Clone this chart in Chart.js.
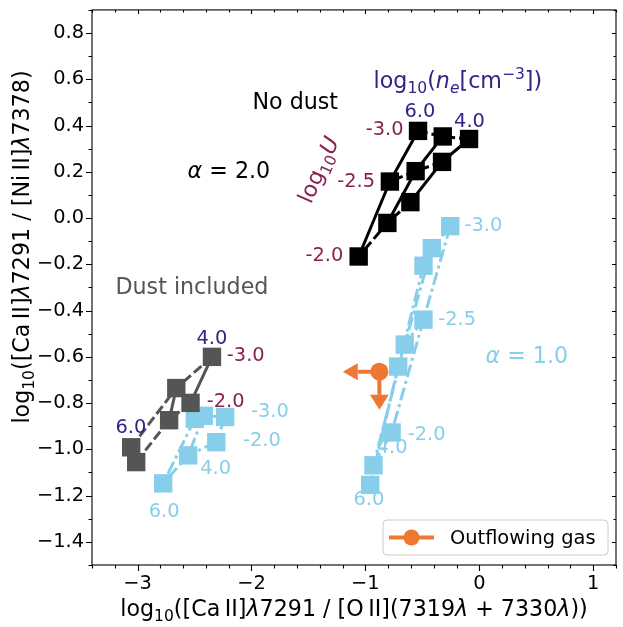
<!DOCTYPE html>
<html>
<head>
<meta charset="utf-8">
<script src="https://cdn.jsdelivr.net/npm/chart.js@4.4.0/dist/chart.umd.min.js"></script>
<style>
    body { margin: 0; background: #fff; }
    canvas { display: block; }
</style>
</head>
<body>
<canvas id="chart" width="623" height="627"></canvas>
<script>
// Model grids: rows are log10(ne) = 4.0, 5.0, 6.0; columns are log10(U)
const logNe = ['4.0', '5.0', '6.0'];
const logU = ['-3.0', '-2.5', '-2.0'];
const logUDust = ['-3.0', '-2.0'];

// No dust, alpha = 2.0
const noDustX = [[-0.090, -0.327, -0.605], [-0.321, -0.559, -0.807], [-0.538, -0.785, -1.059]];
const noDustY = [[0.342, 0.243, 0.069], [0.353, 0.203, -0.021], [0.377, 0.158, -0.166]];

// No dust, alpha = 1.0
const alpha1X = [[-0.255, -0.490, -0.770], [-0.417, -0.655, -0.929], [-0.490, -0.712, -0.958]];
const alpha1Y = [[-0.035, -0.439, -0.927], [-0.130, -0.547, -1.069], [-0.206, -0.642, -1.154]];

// Dust included, alpha = 2.0 (grey) and alpha = 1.0 (blue); columns logU = -3.0, -2.0
const dustX = [[-2.347, -2.535], [-2.660, -2.723], [-3.056, -3.012]];
const dustY = [[-0.600, -0.799], [-0.735, -0.874], [-0.991, -1.055]];
const dustAlpha1X = [[-2.231, -2.309], [-2.419, -2.556], [-2.497, -2.775]];
const dustAlpha1Y = [[-0.860, -0.969], [-0.855, -1.026], [-0.868, -1.147]];

// Observed outflowing gas (upper limits on both axes)
const outflowX = [-0.877];
const outflowY = [-0.664];
const outflowXerr = [0.19];
const outflowYerr = [0.10];

const INDIGO = '#332288';
const WINE = '#882255';
const SKY = '#87ceeb';
const GREY = '#555555';
const ORANGE = '#ee7733';
const FONT = '"DejaVu Sans"';

// text labels placed in data coordinates
const notes = [
    { x: -0.521, y: 0.459, text: '6.0', color: INDIGO },
    { x: -0.086, y: 0.417, text: '4.0', color: INDIGO },
    { x: -0.831, y: 0.381, text: '-3.0', color: WINE },
    { x: -1.082, y: 0.155, text: '-2.5', color: WINE },
    { x: -1.360, y: -0.165, text: '-2.0', color: WINE },
    { x: -2.347, y: -0.522, text: '4.0', color: INDIGO },
    { x: -2.050, y: -0.595, text: '-3.0', color: WINE },
    { x: -2.227, y: -0.795, text: '-2.0', color: WINE },
    { x: -3.059, y: -0.909, text: '6.0', color: INDIGO },
    { x: -1.838, y: -0.838, text: '-3.0', color: SKY },
    { x: -1.909, y: -0.965, text: '-2.0', color: SKY },
    { x: -2.315, y: -1.086, text: '4.0', color: SKY },
    { x: -2.767, y: -1.271, text: '6.0', color: SKY },
    { x: 0.036, y: -0.035, text: '-3.0', color: SKY },
    { x: -0.194, y: -0.440, text: '-2.5', color: SKY },
    { x: -0.462, y: -0.936, text: '-2.0', color: SKY },
    { x: -0.766, y: -0.996, text: '4.0', color: SKY },
    { x: -0.970, y: -1.218, text: '6.0', color: SKY }
];

// rich text: [text, kind] where kind may contain 'it', 'sub', 'sup'
const xTitle = [['log'], ['10', 'sub'], ['([Ca\u2009II]'], ['λ', 'it'], ['7291 / [O\u2009II](7319'], ['λ', 'it'], [' + 7330'], ['λ', 'it'], ['))']];
const yTitle = [['log'], ['10', 'sub'], ['([Ca\u2009II]'], ['λ', 'it'], ['7291 / [Ni\u2009II]'], ['λ', 'it'], ['7378)']];
const labels = [
    { x: -1.616, y: 0.471, segs: [['No dust']], color: '#000', size: 22.2, rot: 0 },
    { x: -2.198, y: 0.175, segs: [['α', 'it'], [' = 2.0']], color: '#000', size: 22.2, rot: 0 },
    { x: -2.523, y: -0.327, segs: [['Dust included']], color: GREY, size: 22.2, rot: 0 },
    { x: 0.417, y: -0.628, segs: [['α', 'it'], [' = 1.0']], color: SKY, size: 22.2, rot: 0 },
    { x: -0.188, y: 0.562, segs: [['log'], ['10', 'sub'], ['('], ['n', 'it'], ['e', 'itsub'], ['[cm'], ['\u22123', 'sup'], ['])']], color: INDIGO, size: 22.2, rot: 0 },
    { x: -1.406, y: 0.207, segs: [['log'], ['10', 'sub'], ['U', 'it']], color: WINE, size: 22.2, rot: -66, mid: true }
];

function drawRich(ctx, segs, x, y, size, color, rot, mid) {
    ctx.save();
    ctx.translate(x, y);
    ctx.rotate((rot || 0) * Math.PI / 180);
    ctx.fillStyle = color;
    ctx.textAlign = 'left';
    ctx.textBaseline = 'alphabetic';
    const parts = segs.map(([t, kind = '']) => {
        const small = kind.includes('sub') || kind.includes('sup');
        const font = (kind.includes('it') ? 'italic ' : '') + (small ? size * 0.7 : size) + 'px ' + FONT;
        ctx.font = font;
        const dy = kind.includes('sub') ? size * 0.22 : (kind.includes('sup') ? -size * 0.42 : 0);
        return { t, font, dy, w: ctx.measureText(t).width };
    });
    const total = parts.reduce((s, p) => s + p.w, 0);
    let cx = -total / 2;
    const base = mid ? size * 0.3 : 0;
    parts.forEach(p => {
        ctx.font = p.font;
        ctx.fillText(p.t, cx, p.dy + base);
        cx += p.w;
    });
    ctx.restore();
}

function gridSets(xs, ys, color, neDash, uDash, order) {
    const sets = [];
    // lines at fixed log U, across densities
    xs[0].forEach((_, j) => {
        sets.push({
            data: xs.map((row, i) => ({ x: row[j], y: ys[i][j] })),
            borderColor: color, borderWidth: 3, borderDash: uDash,
            pointRadius: 0, showLine: true, order: order + 1
        });
    });
    // lines at fixed density, square markers
    xs.forEach((row, i) => {
        sets.push({
            label: 'ne ' + logNe[i],
            data: row.map((v, j) => ({ x: v, y: ys[i][j] })),
            borderColor: color, backgroundColor: color, borderWidth: 3, borderDash: neDash,
            pointStyle: 'rect', pointRadius: 13, pointBorderWidth: 0, showLine: true, order
        });
    });
    return sets;
}

const dashDot = [13, 4, 3, 4];
const dashed = [10, 4];

const datasets = [
    {
        label: 'Outflowing gas',
        data: outflowX.map((v, i) => ({ x: v, y: outflowY[i] })),
        backgroundColor: ORANGE, borderColor: ORANGE, pointRadius: 9, pointBorderWidth: 0, order: 0
    },
    ...gridSets(dustX, dustY, GREY, [], dashed, 2),
    ...gridSets(dustAlpha1X, dustAlpha1Y, SKY, dashDot, dashDot, 4),
    ...gridSets(noDustX, noDustY, '#000000', [], dashed, 6),
    ...gridSets(alpha1X, alpha1Y, SKY, dashDot, dashDot, 8)
];

function minus(s) { return s.replace('-', '\u2212'); }

const isMajorX = v => Math.abs(v - Math.round(v)) < 1e-6;
const isMajorY = v => Math.round(v * 10) % 2 === 0;

const outflowPlugin = {
    id: 'outflow',
    afterDatasetsDraw(chart) {
        const { ctx, scales: { x, y } } = chart;
        ctx.save();
        ctx.strokeStyle = ORANGE;
        ctx.fillStyle = ORANGE;
        ctx.lineWidth = 4;
        outflowX.forEach((v, i) => {
            const px = x.getPixelForValue(v), py = y.getPixelForValue(outflowY[i]);
            const ex = x.getPixelForValue(v - outflowXerr[i]);
            const ey = y.getPixelForValue(outflowY[i] - outflowYerr[i]);
            ctx.beginPath();
            ctx.moveTo(px, py); ctx.lineTo(ex, py);
            ctx.moveTo(px, py); ctx.lineTo(px, ey);
            ctx.stroke();
            ctx.beginPath();
            ctx.moveTo(ex, py - 8.5); ctx.lineTo(ex - 15, py); ctx.lineTo(ex, py + 8.5); ctx.closePath();
            ctx.moveTo(px - 9.5, ey); ctx.lineTo(px, ey + 15); ctx.lineTo(px + 9.5, ey); ctx.closePath();
            ctx.fill();
        });
        ctx.restore();
    }
};

const framePlugin = {
    id: 'frame',
    afterDatasetsDraw(chart) {
        const { ctx, chartArea: a, scales: { x, y } } = chart;
        ctx.save();
        ctx.strokeStyle = '#000';
        ctx.lineWidth = 1.1;
        ctx.strokeRect(a.left, a.top, a.right - a.left, a.bottom - a.top);
        ctx.beginPath();
        x.ticks.forEach(t => {
            const px = Math.round(x.getPixelForValue(t.value)) + 0.5;
            const major = isMajorX(t.value);
            ctx.moveTo(px, a.bottom); ctx.lineTo(px, a.bottom + (major ? 6 : 3.5));
            ctx.moveTo(px, a.top); ctx.lineTo(px, a.top + (major ? 4 : 2.5));
        });
        y.ticks.forEach(t => {
            const py = Math.round(y.getPixelForValue(t.value)) + 0.5;
            const major = isMajorY(t.value);
            ctx.moveTo(a.left, py); ctx.lineTo(a.left - (major ? 6 : 3.5), py);
            ctx.moveTo(a.right, py); ctx.lineTo(a.right - (major ? 4 : 2.5), py);
        });
        ctx.stroke();
        ctx.restore();
    }
};

const textPlugin = {
    id: 'texts',
    afterDatasetsDraw(chart) {
        const { ctx, chartArea: a, scales: { x, y } } = chart;
        ctx.save();
        ctx.font = '19.4px ' + FONT;
        ctx.textAlign = 'center';
        ctx.textBaseline = 'middle';
        notes.forEach(n => {
            ctx.fillStyle = n.color;
            ctx.fillText(n.text, x.getPixelForValue(n.x), y.getPixelForValue(n.y));
        });
        ctx.restore();
        labels.forEach(l => drawRich(ctx, l.segs, x.getPixelForValue(l.x), y.getPixelForValue(l.y), l.size, l.color, l.rot, l.mid));
        drawRich(ctx, xTitle, (a.left + a.right) / 2, 616, 22.2, '#000', 0);
        drawRich(ctx, yTitle, 29, 247, 22.2, '#000', -90);
    }
};

const legendPlugin = {
    id: 'boxLegend',
    afterDraw(chart) {
        const { ctx, chartArea: a } = chart;
        const ds = chart.data.datasets[0];
        const right = a.right - 8, bottom = a.bottom - 10;
        const w = 225, h = 35, left = right - w, top = bottom - h;
        ctx.save();
        ctx.beginPath();
        ctx.roundRect(left, top, w, h, 4);
        ctx.fillStyle = 'rgba(255,255,255,0.8)';
        ctx.fill();
        ctx.strokeStyle = '#cccccc';
        ctx.lineWidth = 1;
        ctx.stroke();
        const cy = top + h / 2;
        ctx.strokeStyle = ds.borderColor;
        ctx.lineWidth = 4;
        ctx.beginPath();
        ctx.moveTo(left + 6, cy); ctx.lineTo(left + 51, cy);
        ctx.stroke();
        ctx.fillStyle = ds.backgroundColor;
        ctx.beginPath();
        ctx.arc(left + 28.5, cy, 8, 0, Math.PI * 2);
        ctx.fill();
        ctx.fillStyle = '#000';
        ctx.font = '19.4px ' + FONT;
        ctx.textAlign = 'left';
        ctx.textBaseline = 'middle';
        ctx.fillText(ds.label, left + 67, cy + 1);
        ctx.restore();
    }
};

Chart.defaults.font.family = FONT;
Chart.defaults.color = '#000';

new Chart(document.getElementById('chart'), {
    type: 'scatter',
    data: { datasets },
    options: {
        responsive: false,
        devicePixelRatio: 1,
        animation: false,
        layout: { autoPadding: false, padding: { left: 0, right: 1, top: 3, bottom: 0 } },
        plugins: { legend: { display: false }, tooltip: { enabled: false } },
        scales: {
            x: {
                type: 'linear', min: -3.4, max: 1.2,
                afterFit: s => { s.height = 62; },
                grid: { display: false, drawTicks: false },
                border: { display: false },
                ticks: {
                    stepSize: 0.2, autoSkip: false, maxRotation: 0, padding: 7,
                    font: { size: 19.4 },
                    callback: v => isMajorX(v) ? minus(String(Math.round(v))) : ''
                }
            },
            y: {
                type: 'linear', min: -1.5, max: 0.9,
                afterFit: s => { s.width = 92; },
                grid: { display: false, drawTicks: false },
                border: { display: false },
                ticks: {
                    stepSize: 0.1, autoSkip: false, padding: 8,
                    // small line height keeps the end labels from padding the plot area
                    font: { size: 19.4, lineHeight: 0.2 },
                    callback: v => isMajorY(v) ? minus((Math.round(v * 10) / 10).toFixed(1)) : ''
                }
            }
        }
    },
    plugins: [outflowPlugin, framePlugin, textPlugin, legendPlugin]
});
</script>
</body>
</html>
